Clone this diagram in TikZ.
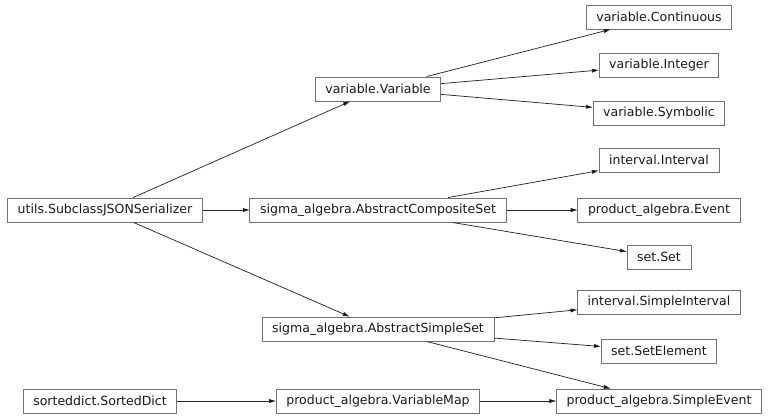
\documentclass[tikz,border=0pt]{standalone}
\usepackage{fontspec}
\setmainfont{DejaVu Sans}
\usetikzlibrary{arrows.meta, positioning}

\begin{document}
\begin{tikzpicture}[x=0.75pt, y=-0.75pt, >={Triangle[length=5pt,width=2.8pt]},
    font=\fontsize{9.4}{11}\selectfont]
  \tikzset{
    cls/.style={
      draw=black!55,
      line width=0.7pt,
      inner xsep=7.6pt,
      minimum height=18pt,
      text=black!90,
      text centered},
    inh/.style={
      ->,
      draw=black!85,
      line width=0.55pt}}

  \useasboundingbox (0,0) rectangle (768,418);

  \node[cls] (ser) at (105,210) {utils.SubclassJSONSerializer};
  \node[cls] (var) at (378,89) {variable.Variable};
  \node[cls] (comp) at (378,210) {sigma\_algebra.AbstractCompositeSet};
  \node[cls] (simp) at (378,329) {sigma\_algebra.AbstractSimpleSet};
  \node[cls] (sdict) at (100,401) {sorteddict.SortedDict};
  \node[cls] (vmap) at (378,401) {product\_algebra.VariableMap};

  \node[cls] (vcont) at (659,17) {variable.Continuous};
  \node[cls] (vint) at (659,65) {variable.Integer};
  \node[cls] (vsym) at (659,113) {variable.Symbolic};
  \node[cls] (ival) at (659,160) {interval.Interval};
  \node[cls] (ev) at (659,210) {product\_algebra.Event};
  \node[cls] (st) at (659,257) {set.Set};
  \node[cls] (sival) at (659,302) {interval.SimpleInterval};
  \node[cls] (sel) at (659,351) {set.SetElement};
  \node[cls] (sev) at (659,401) {product\_algebra.SimpleEvent};

  \path[inh] (ser) edge (var);
  \path[inh] (ser) edge (comp);
  \path[inh] (ser) edge (simp);

  \path[inh] (var) edge (vcont);
  \path[inh] (var) edge (vint);
  \path[inh] (var) edge (vsym);

  \path[inh] (comp) edge (ival);
  \path[inh] (comp) edge (ev);
  \path[inh] (comp) edge (st);

  \path[inh] (simp) edge (sival);
  \path[inh] (simp) edge (sel);
  \path[inh] (simp) edge (sev);

  \path[inh] (sdict) edge (vmap);
  \path[inh] (vmap) edge (sev);

\end{tikzpicture}
\end{document}
